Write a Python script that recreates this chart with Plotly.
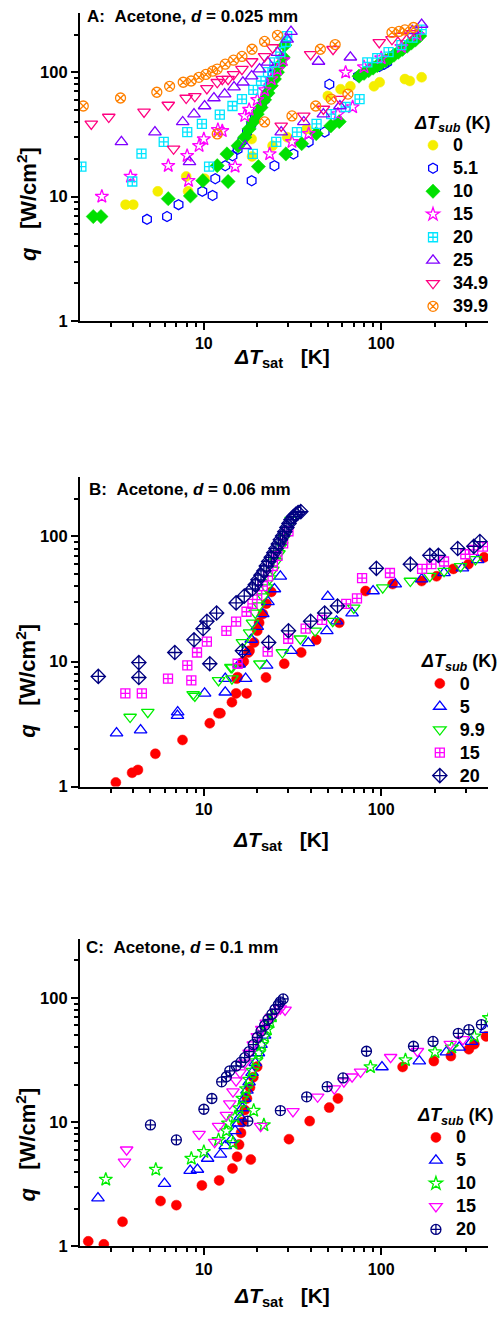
import plotly.graph_objects as go
import math

# ---------------- Panel A: d = 0.025 mm ----------------
A_x_0 = [3.62, 4.0, 5.5, 8.15, 7.95, 10.1, 18.6, 18.7, 24.4, 29.5, 38, 50, 59, 67, 91, 98, 136, 145, 169]
A_q_0 = [8.6, 8.6, 11, 11, 14.5, 13.9, 29, 21, 25.6, 30, 35, 64.5, 73, 77, 77, 83, 88, 85, 91]

A_x_51 = [4.78, 6.2, 7.2, 9.8, 11.2, 11.6, 13.2, 14.5, 18.6, 25, 32, 39, 48, 51, 74,
          15.5, 16.5, 17.5, 18.5, 19.4, 20.2, 21.2, 22.0, 22.8, 23.4, 24.0, 24.4, 25.0,
          86, 91, 97.5, 104, 108]
A_q_51 = [6.55, 6.9, 8.6, 11, 10.2, 13.9, 17.7, 21.3, 13.4, 17.7, 22, 27.5, 33, 80, 93,
          24, 28, 33, 38, 44, 49, 54, 60, 68, 77, 86, 96, 106,
          106, 109, 111, 116, 120]

A_x_10 = [2.38, 2.63, 6.3, 8.4, 9.87, 13.7, 11.9, 13.5, 15.6, 20.3, 29, 35.6, 43, 52, 58,
          17, 18, 19, 20, 21, 22, 23, 24, 25, 26, 27, 28, 28.6,
          75, 80, 85, 90, 95, 100, 106, 112, 118, 125, 132, 140, 148, 156, 165]
A_q_10 = [6.9, 6.9, 9.6, 10.1, 13.4, 13.2, 17.7, 22, 25.6, 17.4, 22, 26.6, 32, 37, 40,
          30, 35, 40, 46, 52, 60, 68, 78, 88, 100, 115, 132, 165,
          93, 98, 103, 108, 113, 118, 124, 130, 137, 145, 153, 162, 172, 182, 196]

A_x_15 = [2.66, 3.86, 6.3, 8.05, 8.2, 9.4, 10, 12, 12.7, 15, 17, 23.5, 31.4, 39, 57, 69, 63,
          18, 20, 22, 24, 26, 28, 80, 100, 130, 160]
A_q_15 = [10, 14.5, 17.7, 21.3, 13.4, 25.6, 29, 34.4, 33.7, 17.4, 44.6, 22, 27.5, 32, 46, 52.5, 99.6,
          50, 60, 72, 88, 105, 125, 110, 130, 160, 200]

A_x_20 = [2.04, 3.95, 4.45, 5.94, 8.06, 9.75, 12.3, 14.5, 16.4, 10.7, 18.9, 25.6, 33.5, 43.2, 52.2, 63, 75.5,
          19, 21, 23, 25, 27, 29, 29.5, 83.5, 95, 110, 130, 150, 169]
A_q_20 = [17.4, 13.2, 22.1, 27.5, 33, 38.4, 45.5, 53.5, 60.8, 17.4, 22, 27.5, 33, 38.4, 46, 52.5, 60.8,
          72, 85, 100, 120, 145, 175, 195, 120, 130, 145, 165, 190, 220]

A_x_25 = [3.43, 5.3, 7.6, 8.8, 10.1, 11.4, 13.1, 14.8, 16.6, 8.3, 18.6, 20.6, 22.9, 26, 29.5, 31,
          17.1, 27.3, 36.6, 47.2, 58.5, 44.3, 67, 150, 169]
A_q_25 = [27.5, 33, 39.8, 46, 53.5, 62, 66.7, 75.9, 83, 19, 93, 106, 120, 144, 184, 212,
          25.6, 33, 39.8, 46, 53.5, 122, 132, 215, 242]

A_x_349 = [2.32, 2.91, 4.6, 6.3, 7.95, 8.9, 10.4, 11.9, 12.7, 13.7, 14.7, 16.4, 18.6, 22, 24.4, 6.75,
           27.3, 36.6, 47.2, 58.5, 40, 53.5, 97.5, 115, 130, 145]
A_q_349 = [38.4, 43.6, 47.9, 54.5, 62, 64, 74, 83, 88, 88, 96, 106, 122, 134, 158, 24.2,
           37, 44.5, 50.6, 60.8, 139, 153, 174, 184, 195, 205]

A_x_399 = [2.09, 3.39, 5.43, 6.41, 7.65, 8.48, 9.38, 10.26, 11.2, 11.9, 13.2, 14.7, 16.4, 18.7, 22, 26,
           11.9, 22, 31.4, 42.7, 52.2, 64.9, 45.4, 55, 115, 126, 136, 152]
A_q_399 = [53.5, 62, 69, 77, 83, 85, 91, 96, 102, 106, 116, 125, 134, 153, 177, 198,
           31.9, 39.8, 44.5, 53.5, 60.8, 66.7, 153, 167, 209, 213, 219, 229]

# ---------------- Panel B: d = 0.06 mm ----------------
B_x_0 = [3.19, 3.94, 4.25, 5.33, 7.58, 10.8, 12.1, 12.4, 14.4, 15.2, 17.4, 15.3, 15.5, 16.5, 16.8, 17.8,
         18.1, 19.2, 20, 20.5, 21.5, 22.5, 24, 22.4, 28.4, 35.4, 43, 58, 81.6, 116, 169, 205, 255, 310, 380]
B_q_0 = [1.08, 1.29, 1.36, 1.83, 2.36, 3.21, 3.86, 3.86, 4.73, 5.56, 5.56, 7.3, 7.5, 9.8, 10.0, 11.8,
         12.2, 14.2, 17.6, 20.4, 24, 29, 36, 7.45, 9.6, 11.8, 14.9, 20.4, 36.6, 41.6, 44, 48, 55, 60, 68]

B_x_5 = [3.22, 4.4, 7.12, 7.1, 10.1, 13.2, 13.2, 17.2, 22.6, 31, 38.8, 49.4, 50, 56, 68.5, 90, 120, 169, 226, 287, 350,
         15.8, 17, 18.5, 20, 21.5, 23, 25, 27]
B_q_5 = [2.68, 2.83, 3.94, 3.7, 5.56, 5.68, 7.3, 7.3, 9.3, 12.2, 14.1, 17.6, 33, 21, 24.4, 36.6, 41.6, 45.5, 51.2, 55.7, 65,
         9.5, 12, 15, 19, 24, 30, 38, 48]

B_x_99 = [3.84, 4.83, 8.7, 8.9, 12.1, 14.4, 14.4, 20.7, 27.7, 35, 42.4, 53.3, 70, 102, 146, 188, 226, 280, 340,
          14.2, 16.5, 18.1, 18.8, 19.5, 20.5, 21.5, 22.5, 23.5, 24.5, 25.5, 26.5, 27.5, 28.5, 29.5, 31]
B_q_99 = [3.6, 3.94, 5.47, 5.3, 7.07, 7.3, 8.96, 9.6, 11.8, 15.2, 17.6, 21, 26.8, 39, 44, 48.1, 52.7, 57.6, 65.5,
          9, 14.2, 17, 20.4, 24.5, 28, 33, 39, 46, 54, 63, 73, 85, 98, 113, 135]

B_x_15 = [3.61, 4.47, 6.28, 8.5, 8.07, 9.15, 10.4, 13.4, 15.2, 17.4, 18.8, 15.5, 22.9, 29.9, 37.5, 46.4, 63.5, 73,
          78, 112, 170, 192, 226, 298, 330, 375, 20, 21.5, 23, 24.5, 26, 28, 30]
B_q_15 = [5.56, 5.56, 7.3, 7.07, 9.3, 11.8, 14.4, 17.6, 20.8, 25, 28.9, 9.6, 12, 15.2, 18.3, 21.5, 28.9, 32,
          46.4, 51, 55, 60, 63, 72, 78, 83, 34, 40, 48, 58, 70, 88, 110]

B_x_20 = [2.54, 4.3, 4.3, 6.86, 8.8, 9.9, 10.4, 11.8, 15.2, 16.9, 10.8, 16.5, 23.2, 30, 40, 48, 56.7, 93.9,
          146, 188, 210, 270, 333, 360,
          18.8, 19.5, 20.2, 21, 21.8, 22.5, 23.2, 24, 24.8, 25.5, 26.3, 27, 27.8, 28.6, 29.4, 30.2, 31, 32, 33,
          34, 35.2]
B_q_20 = [7.6, 9.8, 7.45, 11.8, 14.9, 18.3, 21, 24.4, 29.4, 33.3, 9.6, 12.2, 14.2, 17.6, 21, 24.4, 27.8, 55.6,
          60, 70.6, 70.6, 80, 83.3, 91,
          38, 41, 45, 49, 53, 58, 63, 68, 74, 80, 87, 94, 101, 109, 118, 127, 136, 144, 150,
          155, 158]

# ---------------- Panel C: d = 0.1 mm ----------------
C_x_0 = [2.23, 2.73, 3.48, 5.7, 7.0, 9.75, 12.2, 14.5, 15.4, 18.4, 15.8, 16.2, 16.5, 17, 17.5, 18.2, 19, 20,
         30.2, 39.5, 50.9, 57, 132, 198, 247, 312, 335, 390]
C_q_0 = [1.1, 1.04, 1.58, 2.32, 2.15, 3.1, 3.4, 4.24, 5.27, 5.0, 6.6, 8.2, 10, 12.5, 15.5, 19, 23, 28,
         7.3, 10.2, 13.1, 15.5, 27.8, 31, 34, 38.6, 42.4, 49]

C_x_5 = [2.53, 6.0, 8.37, 9.2, 10.5, 12.4, 13.2, 14.3, 15, 15.6, 16, 16.5, 17, 17.5, 18, 18.7, 19.5, 20.3,
         21, 22, 101, 164, 233, 275, 323, 390]
C_q_5 = [2.45, 3.2, 4.08, 4.16, 5.1, 5.5, 6.45, 7.2, 8.5, 9.8, 11, 13, 15.5, 18, 21, 25, 30, 36,
         42, 50, 27.8, 31, 36.6, 40, 44.5, 55.6]

C_x_10 = [2.8, 5.36, 8.5, 10, 12.1, 13.4, 13.7, 14.6, 21.8, 19.1,
          15, 15.8, 16.5, 17.3, 18, 18.8, 19.6, 20.4, 21.2, 22, 22.8, 23.6, 24.3,
          87, 137, 201, 250, 335, 405]
C_q_10 = [3.46, 4.16, 5.1, 5.78, 7.2, 8.5, 9.8, 6.8, 9.5, 12.4,
          11, 13, 15.5, 18.5, 22, 26, 31, 36, 42, 49, 56, 64, 71,
          27.8, 31.6, 36.6, 40, 49, 69]

C_x_15 = [3.57, 3.67, 9.4, 11.5, 12.1, 13.4, 14, 14.6, 15.2, 16, 17, 18, 19, 20, 21.2, 22.5, 24, 25.5, 27, 28.7,
          20.9, 31.8, 43.8, 54.4, 61.6, 68.5, 76.5, 113, 160, 245, 289]
C_q_15 = [4.8, 6.0, 8.0, 6.9, 9.3, 11.4, 14.1, 17.6, 21.6, 25, 30, 36, 42, 49, 56, 63, 70, 77, 82, 80,
          9.3, 12.2, 16, 18.6, 21.2, 23.2, 25.4, 33.3, 37.2, 42.4, 46.4]

C_x_20 = [5.0, 7.0, 17.7, 10, 11.1, 12.6, 13.4, 14, 15.2, 16.2, 17, 18, 19, 20, 21, 22, 23, 24.2, 25.2, 26.3, 27, 28,
          27, 38, 49.6, 60.9, 82.6, 152, 196, 272, 312, 367]
C_q_20 = [9.5, 7.2, 10.2, 12.7, 15.5, 21.1, 23.2, 25.9, 28.3, 30.4, 33, 37, 42, 48, 54, 60, 67, 74, 81, 88, 93, 98,
          12.4, 16, 19.3, 22.7, 37.2, 40.8, 44.6, 51.9, 55.6, 61]

X_TICKS = [10, 100]
Y_TICKS = [1, 10, 100]
X_MINOR = [3, 4, 5, 6, 7, 8, 9, 20, 30, 40, 50, 60, 70, 80, 90, 200, 300]
Y_MINOR = [2, 3, 4, 5, 6, 7, 8, 9, 20, 30, 40, 50, 60, 70, 80, 90, 200]
X_RANGE = [2, 400]
Y_RANGE = [1, 300]

FONT = "Liberation Sans, Arial, sans-serif"
H = 1323.0
W = 501.0

fig = go.Figure()


def add(x, y, name, sym, color, xa, ya, leg, filled=False, size=10, lw=1.3):
    if filled:
        marker = dict(symbol=sym, size=size, color=color, line=dict(color=color, width=0.5))
    else:
        marker = dict(symbol=sym, size=size, color=color, line=dict(color=color, width=lw))
    label = '<span style="font-size:18px"><b>%s</b></span>' % name
    fig.add_trace(go.Scatter(x=x, y=y, mode="markers", name=label, marker=marker,
                             xaxis=xa, yaxis=ya, legend=leg, showlegend=True))


# Panel A
add(A_x_0, A_q_0, "0", "circle", "#F5EE00", "x", "y", "legend", filled=True)
add(A_x_51, A_q_51, "5.1", "hexagon-open", "#0000FF", "x", "y", "legend")
add(A_x_10, A_q_10, "10", "diamond", "#00E000", "x", "y", "legend", filled=True, size=11)
add(A_x_15, A_q_15, "15", "star-open", "#FF00FF", "x", "y", "legend", size=10)
add(A_x_20, A_q_20, "20", "square-cross-open", "#00E5FF", "x", "y", "legend", size=9)
add(A_x_25, A_q_25, "25", "triangle-up-open", "#8000FF", "x", "y", "legend", size=11)
add(A_x_349, A_q_349, "34.9", "triangle-down-open", "#FF0080", "x", "y", "legend", size=11)
add(A_x_399, A_q_399, "39.9", "circle-x-open", "#FF8000", "x", "y", "legend", size=10)

# Panel B
add(B_x_0, B_q_0, "0", "circle", "#FF0000", "x2", "y2", "legend2", filled=True)
add(B_x_5, B_q_5, "5", "triangle-up-open", "#0000FF", "x2", "y2", "legend2", size=11)
add(B_x_99, B_q_99, "9.9", "triangle-down-open", "#00EE00", "x2", "y2", "legend2", size=11)
add(B_x_15, B_q_15, "15", "square-cross-open", "#FF00FF", "x2", "y2", "legend2", size=9)
add(B_x_20, B_q_20, "20", "diamond-cross-open", "#000080", "x2", "y2", "legend2", size=11)

# Panel C
add(C_x_0, C_q_0, "0", "circle", "#FF0000", "x3", "y3", "legend3", filled=True)
add(C_x_5, C_q_5, "5", "triangle-up-open", "#0000FF", "x3", "y3", "legend3", size=11)
add(C_x_10, C_q_10, "10", "star-open", "#00EE00", "x3", "y3", "legend3", size=10)
add(C_x_15, C_q_15, "15", "triangle-down-open", "#FF00FF", "x3", "y3", "legend3", size=11)
add(C_x_20, C_q_20, "20", "circle-cross-open", "#000080", "x3", "y3", "legend3", size=10)

xdom = [82 / W, 1.0]
panels = [(13, 323), (480, 792), (945, 1255)]


def xaxis_def():
    return dict(type="log", domain=xdom, range=[math.log10(X_RANGE[0]), math.log10(X_RANGE[1])],
                showline=True, linecolor="black", linewidth=2, mirror=False,
                ticks="outside", ticklen=7, tickwidth=2, tickcolor="black",
                tickvals=X_TICKS, ticktext=["<b>%d</b>" % v for v in X_TICKS],
                tickfont=dict(family=FONT, size=16, color="black"),
                minor=dict(tickvals=X_MINOR, ticks="outside", ticklen=4, tickwidth=1.5, tickcolor="black",
                           showgrid=False),
                showgrid=False, zeroline=False)


def yaxis_def(top, bot, anchor):
    return dict(type="log", domain=[1 - bot / H, 1 - top / H], anchor=anchor,
                range=[math.log10(Y_RANGE[0]), math.log10(Y_RANGE[1])],
                showline=True, linecolor="black", linewidth=2,
                ticks="outside", ticklen=7, tickwidth=2, tickcolor="black",
                tickvals=Y_TICKS, ticktext=["<b>%d</b>" % v for v in Y_TICKS],
                tickfont=dict(family=FONT, size=16.5, color="black"),
                minor=dict(tickvals=Y_MINOR, ticks="outside", ticklen=4, tickwidth=1.5, tickcolor="black",
                           showgrid=False),
                showgrid=False, zeroline=False)


xa1 = xaxis_def(); xa1["anchor"] = "y"
xa2 = xaxis_def(); xa2["anchor"] = "y2"
xa3 = xaxis_def(); xa3["anchor"] = "y3"

legend_title = "<b><i>ΔT<sub>sub</sub></i> (K)</b>"


def legend_def(xpx, ytop):
    return dict(x=xpx / W, y=1 - ytop / H, xanchor="left", yanchor="top",
                bgcolor="rgba(0,0,0,0)", borderwidth=0,
                font=dict(family=FONT, size=15.4, color="black"),
                title=dict(text=legend_title, font=dict(family=FONT, size=18, color="black")),
                tracegroupgap=0, itemsizing="trace")


fig.update_layout(
    width=501, height=1323, margin=dict(l=0, r=0, t=0, b=0),
    paper_bgcolor="white", plot_bgcolor="white",
    xaxis=xa1, xaxis2=xa2, xaxis3=xa3,
    yaxis=yaxis_def(*panels[0], "x"),
    yaxis2=yaxis_def(*panels[1], "x2"),
    yaxis3=yaxis_def(*panels[2], "x3"),
    legend=legend_def(424, 106),
    legend2=legend_def(431, 648),
    legend3=legend_def(427, 1105),
    font=dict(family=FONT, color="black"),
)

titles = [("A", "0.025", 87, 17), ("B", "0.06", 89, 493), ("C", "0.1", 86, 954)]
for letter, d, xp, yp in titles:
    fig.add_annotation(text="<b>%s:\u00a0\u00a0Acetone, <i>d</i> = %s mm</b>" % (letter, d),
                       x=xp / W, y=1 - yp / H, xref="paper", yref="paper",
                       xanchor="left", yanchor="middle", showarrow=False,
                       font=dict(family=FONT, size=17, color="black"))

ytitle_centers = [205, 685, 1152]
for yc in ytitle_centers:
    fig.add_annotation(text="<b><i>q</i>\u00a0\u00a0\u00a0[W/cm<sup>2</sup>]</b>",
                       x=27 / W, y=1 - yc / H, xref="paper", yref="paper",
                       xanchor="center", yanchor="middle", textangle=-90, showarrow=False,
                       font=dict(family=FONT, size=22, color="black"))

xtitle_centers = [(290, 360), (288, 847), (290, 1306)]
for xc, yc in xtitle_centers:
    fig.add_annotation(text="<b><i>ΔT</i><sub>sat</sub>\u00a0\u00a0\u00a0[K]</b>",
                       x=xc / W, y=1 - yc / H, xref="paper", yref="paper",
                       xanchor="center", yanchor="middle", showarrow=False,
                       font=dict(family=FONT, size=21, color="black"))

fig.write_html("out.html")
